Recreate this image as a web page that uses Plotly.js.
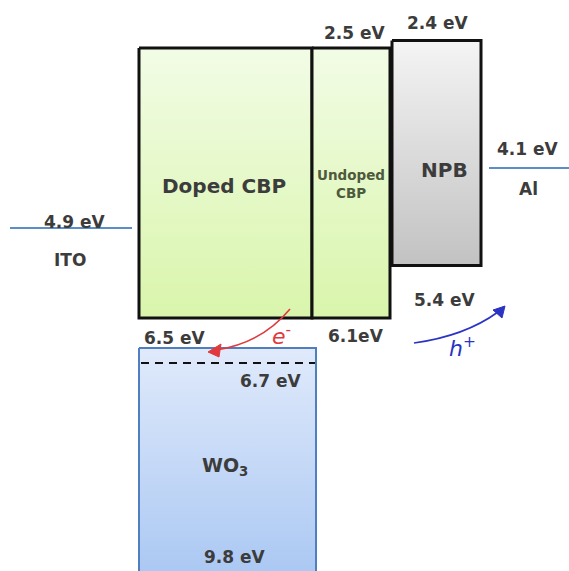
<!DOCTYPE html>
<html><head><meta charset="utf-8">
<script src="https://cdn.plot.ly/plotly-3.0.1.min.js"></script>
<style>html,body{margin:0;padding:0;background:#fff}#chart{width:569px;height:571px}</style>
</head><body><div id="chart"></div>
<script>
// ---- data (energies in eV below vacuum) ----
const layers = ['Doped CBP', 'Undoped CBP', 'NPB', 'WO3'];
const lumo = [2.5, 2.5, 2.4, 6.5];
const homo = [6.1, 6.1, 5.4, 9.8];
const electrodes = ['ITO', 'Al'];
const workFunction = [4.9, 4.1];
const fermiWO3 = 6.7;

// ---- schematic layout (horizontal placement, styles) ----
const xLeft = [139, 312, 392, 139];
const xRight = [312, 390, 481, 316];
const gradTop = ['#f2fce6', '#f2fce6', '#f4f4f4', '#e0eafb'];
const gradBot = ['#d9f5ab', '#d9f5ab', '#c2c2c2', '#a6c5f2'];
const borderCol = ['#111', '#111', '#111', '#4f7fbf'];
const borderW = [3, 3, 3, 2];
const elecX = [[10, 132], [489, 569]];

const traces = [];
layers.forEach((name, i) => {
  traces.push({
    type: 'scatter', mode: 'lines', name: name,
    x: [xLeft[i], xRight[i], xRight[i], xLeft[i], xLeft[i]],
    y: [lumo[i], lumo[i], homo[i], homo[i], lumo[i]],
    fill: 'toself',
    fillgradient: {type: 'vertical', start: lumo[i], stop: homo[i],
      colorscale: [[0, gradTop[i]], [1, gradBot[i]]]},
    line: {color: borderCol[i], width: borderW[i]},
    hoverinfo: 'skip', showlegend: false
  });
});
electrodes.forEach((name, i) => {
  traces.push({type: 'scatter', mode: 'lines', name: name,
    x: elecX[i], y: [workFunction[i], workFunction[i]],
    line: {color: '#5b8dc9', width: 2}, hoverinfo: 'skip', showlegend: false});
});
traces.push({type: 'scatter', mode: 'lines', x: [xLeft[3] + 2, xRight[3] - 1], y: [fermiWO3, fermiWO3],
  line: {color: '#111', width: 2, dash: '8px,6px'}, hoverinfo: 'skip', showlegend: false});
traces.push({type: 'scatter', mode: 'markers', x: [0], y: [0], yaxis: 'y2',
  marker: {opacity: 0}, hoverinfo: 'skip', showlegend: false});

const F = 'DejaVu Sans, sans-serif';
const tc = '#3c3c3c';
function fnt(size, color) { return {family: F, size: size, color: color || tc, weight: 'bold'}; }
function lab(text, x, y, yshift, size, color) {
  return {text: text, x: x, y: y, xref: 'x', yref: 'y', yshift: yshift,
    showarrow: false, font: fnt(size || 17, color)};
}
function pl(text, x, y, size, color) {
  return {text: text, x: x, y: y, xref: 'x', yref: 'y2',
    showarrow: false, font: fnt(size || 17, color)};
}
const fmt = v => v.toFixed(1) + ' eV';
const annotations = [
  lab(fmt(lumo[1]), 355, lumo[1], 15),
  lab(fmt(lumo[2]), 438, lumo[2], 18),
  lab(fmt(workFunction[1]), 528, workFunction[1], 19),
  lab(electrodes[1], 528, workFunction[1], -21),
  lab(fmt(workFunction[0]), 75, workFunction[0], 6),
  lab(electrodes[0], 70, workFunction[0], -32),
  lab(fmt(homo[2]), 445, homo[2], -34),
  lab(fmt(lumo[3]), 175, lumo[3], 10),
  lab(homo[1].toFixed(1) + 'eV', 356, homo[1], -18),
  lab(fmt(fermiWO3), 271, fermiWO3, -18),
  pl('Doped CBP', 224, 186, 20),
  pl('Undoped', 351, 175, 13.5, '#4d5a3c'),
  pl('CBP', 351, 193, 13.5, '#4d5a3c'),
  pl('NPB', 444, 170, 20),
  pl('WO<sub>3</sub>', 225, 466, 19),
  pl(fmt(homo[3]), 235, 557, 17),
  pl('<i>e</i><sup>-</sup>', 281, 335, 22, '#e03a3e'),
  pl('<i>h</i><sup>+</sup>', 462, 347, 22, '#2b33c4')
];
annotations[16].font.weight = 'normal';
annotations[17].font.weight = 'normal';

const shapes = [
  {type: 'path', xref: 'x', yref: 'y2', path: 'M 290,309 Q 262,343 216,350',
    line: {color: '#e03a3e', width: 1.6}},
  {type: 'path', xref: 'x', yref: 'y2', path: 'M 208,352 L 221,344 L 219,357 Z',
    fillcolor: '#e03a3e', line: {color: '#e03a3e', width: 1}},
  {type: 'path', xref: 'x', yref: 'y2', path: 'M 414,343 Q 465,336 498,312',
    line: {color: '#2b33c4', width: 1.6}},
  {type: 'path', xref: 'x', yref: 'y2', path: 'M 505,306 L 502,318 L 493,310 Z',
    fillcolor: '#2b33c4', line: {color: '#2b33c4', width: 1}}
];

const yTop = 1.86, yBot = 9.473;
const layout = {
  width: 569, height: 571,
  margin: {l: 0, r: 0, t: 0, b: 0},
  paper_bgcolor: '#fff', plot_bgcolor: '#fff',
  showlegend: false,
  xaxis: {range: [0, 569], visible: false, fixedrange: true},
  yaxis: {range: [yBot, yTop], visible: false, fixedrange: true},
  yaxis2: {range: [571, 0], overlaying: 'y', visible: false, fixedrange: true},
  annotations: annotations,
  shapes: shapes
};
Plotly.newPlot('chart', traces, layout, {staticPlot: true, displayModeBar: false});
</script></body></html>
